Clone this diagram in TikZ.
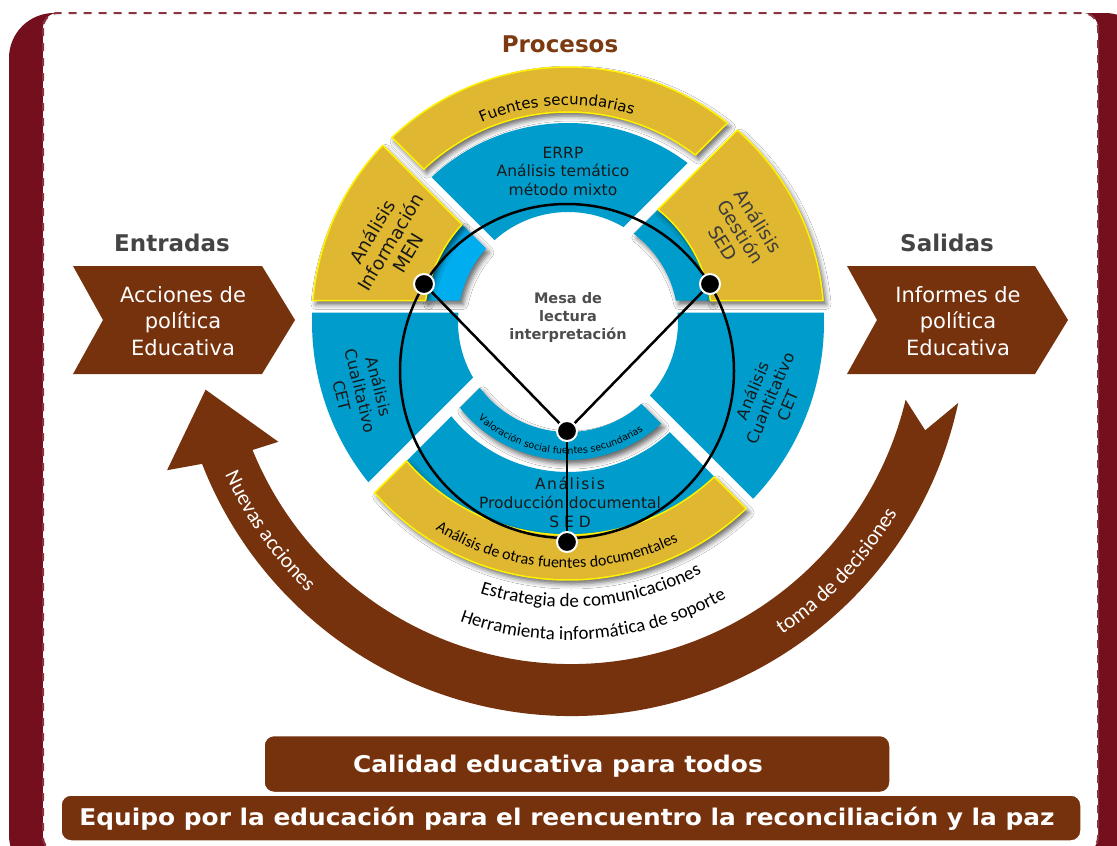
\documentclass[tikz,border=0pt]{standalone}
\usepackage{fontspec}
\setmainfont{DejaVu Sans}
\newfontfamily\carl{Carlito}
\usetikzlibrary{decorations.text,shadows.blur}
\definecolor{frameRed}{HTML}{740F1E}
\definecolor{brownA}{HTML}{76310D}
\definecolor{brownP}{HTML}{7B3A10}
\definecolor{goldY}{HTML}{E0B730}
\definecolor{yellowB}{HTML}{FFF200}
\definecolor{blueA}{HTML}{009DCC}
\definecolor{blueL}{HTML}{00AEEF}
\definecolor{grayT}{HTML}{444444}
\definecolor{grayM}{HTML}{4D4D4D}
\definecolor{grayS}{HTML}{3C3C3C}
% annular sector with parallel-offset straight edges
% #1 style, #2 start angle, #3 end angle, #4 inner r, #5 outer r, #6 offset start edge, #7 offset end edge
\newcommand{\annpiece}[7]{%
  \path[#1] ({#2+asin((#6)/(#5))}:#5)
    arc[start angle={#2+asin((#6)/(#5))}, end angle={#3-asin((#7)/(#5))}, radius=#5]
    -- ({#3-asin((#7)/(#4))}:#4)
    arc[start angle={#3-asin((#7)/(#4))}, end angle={#2+asin((#6)/(#4))}, radius=#4]
    -- cycle;}
\tikzset{
  shd/.style={blur shadow={shadow xshift=3pt, shadow yshift=-4pt, shadow blur radius=5pt, shadow opacity=60}},
  goldpiece/.style={fill=goldY, draw=yellowB, line width=1.5pt},
  txt/.style={align=center, inner sep=0pt, text=black!90},
  head/.style={font=\bfseries\fontsize{23}{23}\selectfont, inner sep=0pt},
  chevtxt/.style={align=center, inner sep=0pt, text=white, font=\fontsize{21}{26.5}\selectfont},
  bandbox/.style={fill=brownA, draw=white, line width=1.5pt, rounded corners=10pt, inner sep=0pt},
  bandtxt/.style={text=white, inner sep=0pt, font=\bfseries\fontsize{23}{23}\selectfont\addfontfeature{FakeStretch=1.08}},
  dot/.style={circle, fill=black, draw=white, line width=2pt, minimum size=20pt, inner sep=0pt},
  link/.style={line width=2.5pt, black},
  arctext/.style={decorate, decoration={text along path, text align=center, text={#1}}}
}
\begin{document}
\begin{tikzpicture}[x=1pt, y=1pt, line join=round]
\useasboundingbox (0,0) rectangle (1117,-846);
% frame
\fill[frameRed, rounded corners=45pt] (9,-13) rectangle (1150,-880);
\filldraw[fill=white, draw=frameRed!85, line width=2pt, dash pattern=on 8pt off 7pt, rounded corners=15pt] (43,-13) rectangle (1098,-852);

% big brown cycle arrow
\begin{scope}[shift={(571,-320)}]
  \fill[brownA] (-12.1:396) arc[start angle=-12.1, end angle=-158.7, radius=396]
     -- (200.4:431) -- (190.8:372) -- (202.6:317) -- (-157.8:344)
     arc[start angle=-157.8, end angle=-13.4, radius=344] -- (-17.3:371) -- cycle;
  \path[arctext={|\carl\fontsize{21.5}{21.5}\selectfont\color{white}|Nuevas acciones}] (195:379) arc[start angle=195, end angle=235, radius=379];
  \path[arctext={|\carl\fontsize{21.5}{21.5}\selectfont\color{white}|toma de decisiones}] (-68.4:379) arc[start angle=-68.4, end angle=-18.4, radius=379];
\end{scope}

% chevrons
\fill[brownA] (73,-266) -- (262,-266) -- (295,-320) -- (262,-374) -- (73,-374) -- (103,-320) -- cycle;
\fill[brownA] (847,-266) -- (1035,-266) -- (1068,-320) -- (1035,-374) -- (847,-374) -- (877,-320) -- cycle;
\node[chevtxt] (inTxt) at (183,-321) {Acciones de\\política\\Educativa};
\node[chevtxt] (outTxt) at (958,-321) {Informes de\\política\\Educativa};
\node[head, text=grayT] (entradas) at (172,-243) {Entradas};
\node[head, text=grayT] (salidas) at (947,-243) {Salidas};
\node[head, text=brownP] (procesos) at (560,-44) {Procesos};

% ring pieces
\begin{scope}[shift={(568,-322)}]
  \annpiece{fill=blueA}{180}{225}{110}{256}{-9.5}{27.9}
  \annpiece{fill=blueA}{315}{360}{110}{256}{6}{-9.5}
  \annpiece{fill=blueA}{225}{315}{150}{222}{-15.9}{6}
  \annpiece{fill=blueA, shd}{225}{315}{110}{138}{-15.9}{6}
  \annpiece{goldpiece, shd}{225}{315}{213}{258}{-15.9}{6}
  \annpiece{fill=blueA}{45}{135}{110}{199}{27.9}{6}
  \annpiece{fill=blueL, shd}{135}{180}{110}{144}{6}{21.5}
  \annpiece{fill=blueA, shd}{0}{45}{110}{144}{21.5}{-15.9}
  \annpiece{goldpiece, shd}{135}{180}{144}{256}{6}{21.5}
  \annpiece{goldpiece, shd}{0}{45}{144}{256}{21.5}{-15.9}
  \annpiece{goldpiece, shd}{45}{135}{210}{255}{27.9}{6}
  % curved labels
  \path[arctext={|\fontsize{15}{15}\selectfont|Fuentes secundarias}] (148:217) arc[start angle=148, end angle=38, radius=217];
  \path[arctext={|\fontsize{9.5}{9.5}\selectfont|Valoración social fuentes secundarias}] (206:132) arc[start angle=206, end angle=326, radius=132];
  \path[arctext={|\carl\fontsize{16}{16}\selectfont|Análisis de otras fuentes documentales}] (227:246) arc[start angle=227, end angle=307, radius=246];
  \path[arctext={|\carl\fontsize{19}{19}\selectfont|Estrategia de comunicaciones}] (240:285) arc[start angle=240, end angle=310, radius=285];
  \path[arctext={|\carl\fontsize{18.8}{18.8}\selectfont|Herramienta informática de soporte}] (235:318) arc[start angle=235, end angle=315, radius=318];
\end{scope}

% straight labels in the ring
\node[txt, font=\fontsize{15.5}{18.5}\selectfont] (errp) at (563,-171) {ERRP\\Análisis temático\\método mixto};
\node[txt, font=\fontsize{18.5}{21}\selectfont, rotate=59] (men) at (390,-242) {Análisis\\Información\\MEN};
\node[txt, font=\fontsize{18.5}{21}\selectfont, rotate=-58, text=grayS] (ges) at (741,-232) {Análisis\\Gestión\\SED};
\node[txt, font=\fontsize{16}{19}\selectfont, rotate=-76] (cual) at (361,-391) {Análisis\\Cualitativo\\CET};
\node[txt, font=\fontsize{16}{19}\selectfont, rotate=67] (cuan) at (770,-398) {Análisis\\Cuantitativo\\CET};
\node[txt, font=\fontsize{15.5}{19}\selectfont] (prod) at (570,-502) {{\addfontfeature{LetterSpace=10}Análisis}\\Producción documental\\S E D};
\node[txt, font=\bfseries\fontsize{14.5}{18}\selectfont, text=grayM] (mesa) at (568,-317) {Mesa de\\lectura\\interpretación};

% black circle, links and dots
\draw[link] (567,-371) circle[radius=167];
\coordinate (pL) at (424,-284);
\coordinate (pR) at (710,-284);
\coordinate (pM) at (567,-431);
\coordinate (pB) at (567,-542);
\draw[link] (pL) -- (pM) -- (pR);
\draw[link] (pM) -- (pB);
\node[dot] (dL) at (pL) {};
\node[dot] (dR) at (pR) {};
\node[dot] (dM) at (pM) {};
\node[dot] (dB) at (pB) {};

% bottom banners
\node[bandbox, minimum width=1020pt, minimum height=46pt] (equipo) at (571,-818) {};
\node[bandtxt] (equipoTxt) at (567,-819) {Equipo por la educación para el reencuentro la reconciliación y la paz};
\node[bandbox, minimum width=626pt, minimum height=57pt] (calidad) at (577,-764) {};
\node[bandtxt] (calidadTxt) at (558,-766) {Calidad educativa para todos};
\end{tikzpicture}
\end{document}
